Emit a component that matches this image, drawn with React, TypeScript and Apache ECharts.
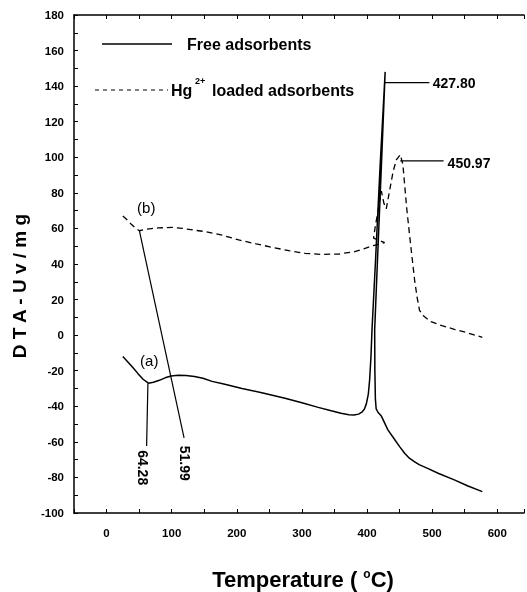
import React, { useEffect, useRef } from "react";
import * as echarts from "echarts";

const FONT = "'Liberation Sans', Arial, sans-serif";

// Free adsorbents (a) — temperature (°C) and DTA (uV/mg)
const freeT = [25, 32, 40, 48, 56, 64.28, 72, 81, 90, 99, 110, 122, 135, 148, 162, 180, 208, 240, 274, 300, 325, 345, 360, 372, 380, 387, 392, 396, 399, 402, 404, 406, 407.6, 413, 420, 427.8, 422, 416, 411.7, 412, 412.8, 414, 417, 422, 432, 441, 450, 458, 465, 472, 480, 493, 510, 534, 555, 577];
const freeV = [-12, -14.8, -18, -21.5, -24.8, -27, -26.5, -25.4, -24, -23, -22.6, -22.7, -23.3, -24.2, -26, -27.5, -30, -32.5, -35.5, -38, -40.6, -42.5, -43.9, -44.7, -44.9, -44.4, -43.3, -41.5, -38.5, -33, -25, -12, 3, 42, 95, 148, 95, 42, 3, -20, -36, -41.5, -43.5, -45.5, -53.3, -58, -62.7, -66.5, -69.2, -71, -72.8, -74.9, -77.8, -81.4, -84.8, -88];

// Hg2+ loaded adsorbents (b)
const loadedT = [25, 31, 38, 45, 50.4, 58, 66, 80, 101, 117, 135, 152, 178, 203, 230, 254, 280, 305, 330, 356, 381, 395, 405, 415, 427, 410, 413, 417, 422, 426, 429.5, 434, 440, 445, 450.97, 455, 457.5, 461, 465, 469, 473, 477, 480.5, 486, 498, 515, 534, 555, 577];
const loadedV = [67, 65, 62.3, 60, 58.7, 59.3, 59.8, 60.3, 60.6, 60, 59, 58.2, 56.2, 53.5, 51.3, 49.4, 47.5, 46, 45.4, 45.6, 46.9, 48.5, 49.9, 50.8, 52, 54.5, 62, 70, 81, 74, 71, 80, 92, 98.5, 101.5, 96, 85.4, 71, 57.3, 44, 31, 21, 14.1, 11, 7.6, 5.3, 3.3, 1.2, -1.2];

const xMin = -50;
const xMax = 641;
const xStep = 50;
const xLabelStep = 100;
const yMin = -100;
const yMax = 180;
const yStep = 20;

// Peak annotations: label, leader start [T, V], leader end [T, V], label anchor [T, V], rotated
const peakLabels = ["427.80", "450.97", "64.28", "51.99"];
const peakLeaderStart = [[427.5, 142], [451, 98], [63.5, -27], [50.4, 58.7]];
const peakLeaderEnd = [[495.7, 142], [517.5, 98], [61.5, -62.3], [119, -57.8]];
const peakLabelAnchor = [[500.8, 141.5], [523.7, 97], [55.7, -74.5], [120.6, -72]];
const peakLabelRotated = [false, false, true, true];

const curveTags = ["(a)", "(b)"];
const curveTagAnchor = [[65.6, -14.5], [61, 72]];

const legendNames = ["Free adsorbents", "Hg", "2+", "loaded adsorbents"];

export default function App() {
  const ref = useRef<HTMLDivElement>(null);

  useEffect(() => {
    const chart = echarts.init(ref.current!, null, { renderer: "svg" });
    const axisLine = { show: true, onZero: false, lineStyle: { color: "#000", width: 1.5 } };
    const tick = { show: true, inside: true, length: 4, lineStyle: { color: "#000", width: 1 } };
    const labelStyle = { color: "#000", fontSize: 11.5, fontWeight: "bold" as const, fontFamily: FONT };

    const leaderSeries = peakLeaderStart.map((s, i) => ({
      type: "line",
      silent: true,
      showSymbol: false,
      symbol: "none",
      data: [s, peakLeaderEnd[i]],
      lineStyle: { color: "#000", width: 1.2 },
      z: 3,
    }));

    chart.setOption({
      animation: false,
      grid: { left: 74, right: 0, top: 15, bottom: 79 },
      xAxis: [
        {
          type: "value",
          position: "bottom",
          min: xMin,
          max: xMax,
          interval: xStep,
          axisLine,
          axisTick: tick,
          splitLine: { show: false },
          axisLabel: {
            ...labelStyle,
            margin: 14,
            formatter: (v: number) => (v >= 0 && v <= 600 && v % xLabelStep === 0 ? String(v) : ""),
          },
        },
        {
          type: "value",
          position: "top",
          min: xMin,
          max: xMax,
          interval: xStep,
          axisLine,
          axisTick: tick,
          splitLine: { show: false },
          axisLabel: { show: false },
        },
      ],
      yAxis: {
        type: "value",
        min: yMin,
        max: yMax,
        interval: yStep,
        axisLine,
        axisTick: tick,
        minorTick: { show: true, splitNumber: 2, length: 4, lineStyle: { color: "#000", width: 1 } },
        splitLine: { show: false },
        axisLabel: { ...labelStyle, margin: 10 },
      },
      series: [
        {
          name: "Free adsorbents",
          type: "line",
          showSymbol: false,
          symbol: "none",
          data: freeT.map((t, i) => [t, freeV[i]]),
          lineStyle: { color: "#000", width: 1.5 },
          z: 4,
        },
        {
          name: "Hg2+ loaded adsorbents",
          type: "line",
          showSymbol: false,
          symbol: "none",
          data: loadedT.map((t, i) => [t, loadedV[i]]),
          lineStyle: { color: "#000", width: 1.3, type: [6, 4] },
          z: 4,
        },
        ...leaderSeries,
      ],
    });

    const px = (p: number[]) => chart.convertToPixel({ gridIndex: 0 }, p) as number[];

    const graphics: any[] = [];
    peakLabels.forEach((txt, i) => {
      const [x, y] = px(peakLabelAnchor[i]);
      graphics.push({
        type: "text",
        x,
        y,
        rotation: peakLabelRotated[i] ? -Math.PI / 2 : 0,
        style: {
          text: txt,
          fill: "#000",
          font: `bold 14px ${FONT}`,
          textAlign: peakLabelRotated[i] ? "center" : "left",
          textVerticalAlign: "middle",
        },
      });
    });
    curveTags.forEach((txt, i) => {
      const [x, y] = px(curveTagAnchor[i]);
      graphics.push({
        type: "text",
        x,
        y,
        style: { text: txt, fill: "#000", font: `15px ${FONT}`, textAlign: "center", textVerticalAlign: "middle" },
      });
    });

    // legend
    graphics.push(
      { type: "line", shape: { x1: 102, y1: 44, x2: 172, y2: 44 }, style: { stroke: "#000", lineWidth: 1.5 } },
      { type: "text", x: 187, y: 44, style: { text: legendNames[0], fill: "#000", font: `bold 16px ${FONT}`, textVerticalAlign: "middle" } },
      { type: "line", shape: { x1: 95, y1: 90, x2: 168, y2: 90 }, style: { stroke: "#000", lineWidth: 1.2, lineDash: [4, 4] } },
      { type: "text", x: 171, y: 90, style: { text: legendNames[1], fill: "#000", font: `bold 16px ${FONT}`, textVerticalAlign: "middle" } },
      { type: "text", x: 195, y: 81, style: { text: legendNames[2], fill: "#000", font: `bold 9px ${FONT}`, textVerticalAlign: "middle" } },
      { type: "text", x: 212, y: 90, style: { text: legendNames[3], fill: "#000", font: `bold 16px ${FONT}`, textVerticalAlign: "middle" } }
    );

    // axis titles
    graphics.push(
      {
        type: "text",
        x: 19,
        y: 286,
        rotation: Math.PI / 2,
        style: { text: "D T A - U v / m g", fill: "#000", font: `bold 19px ${FONT}`, textAlign: "center", textVerticalAlign: "middle" },
      },
      {
        type: "text",
        x: 303,
        y: 579,
        style: {
          text: "Temperature ( {sup|o}C)",
          fill: "#000",
          font: `bold 22px ${FONT}`,
          textAlign: "center",
          textVerticalAlign: "middle",
          rich: { sup: { fontSize: 12, fontWeight: "bold", fontFamily: FONT, verticalAlign: "top", fill: "#000" } },
        },
      }
    );

    chart.setOption({ graphic: graphics });

    return () => chart.dispose();
  }, []);

  return <div ref={ref} style={{ position: "fixed", left: 0, top: 0, width: 527, height: 592 }} />;
}
